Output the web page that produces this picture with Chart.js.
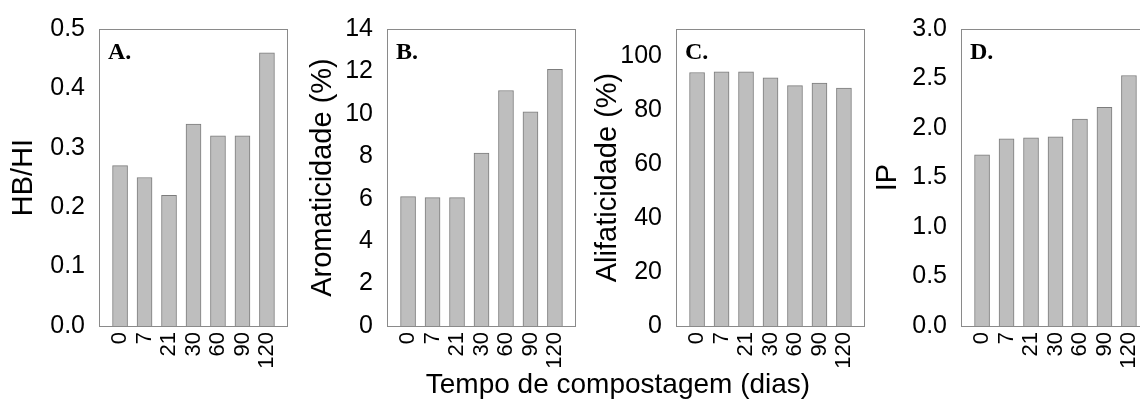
<!DOCTYPE html>
<html>
<head>
<meta charset="utf-8">
<script src="https://cdn.jsdelivr.net/npm/chart.js@4"></script>
<style>
    html, body {
        margin: 0;
        padding: 0;
        background: #ffffff;
        width: 1140px;
        height: 412px;
        overflow: hidden;
        position: relative;
    }
    .panel {
        position: absolute;
        top: 0;
        width: 290px;
        height: 412px;
    }
    #xTitle {
        position: absolute;
        left: 0;
        width: 1236px;
        top: 368px;
        text-align: center;
        font-family: 'Liberation Sans', Arial, sans-serif;
        font-size: 28px;
        color: #000000;
    }
</style>
</head>
<body>
<div class="panel" style="left:0px"><canvas id="chartA" width="290" height="412"></canvas></div>
<div class="panel" style="left:288px"><canvas id="chartB" width="290" height="412"></canvas></div>
<div class="panel" style="left:577px"><canvas id="chartC" width="290" height="412"></canvas></div>
<div class="panel" style="left:862px"><canvas id="chartD" width="290" height="412"></canvas></div>
<div id="xTitle">Tempo de compostagem (dias)</div>

<script>
// Tempo de compostagem (dias)
const dias = ['0', '7', '21', '30', '60', '90', '120'];

// Valores por painel
const hbHi = [0.27, 0.25, 0.22, 0.34, 0.32, 0.32, 0.46];
const aromaticidade = [6.1, 6.05, 6.05, 8.15, 11.1, 10.1, 12.1];
const alifaticidade = [93.9, 94.1, 94.1, 91.9, 89.0, 90.0, 88.1];
const ip = [1.73, 1.89, 1.90, 1.91, 2.09, 2.21, 2.53];

// Marcas do eixo Y de cada painel
const ticksA = [0, 0.1, 0.2, 0.3, 0.4, 0.5];
const ticksB = [0, 2, 4, 6, 8, 10, 12, 14];
const ticksC = [0, 20, 40, 60, 80, 100];
const ticksD = [0, 0.5, 1.0, 1.5, 2.0, 2.5, 3.0];

const fontSans = "'Liberation Sans', Arial, sans-serif";

// Moldura em volta da área do gráfico + letra do painel
const frameAndLetter = {
    id: 'frameAndLetter',
    afterDatasetsDraw(chart, args, opts) {
        const { ctx, chartArea } = chart;
        ctx.save();
        ctx.strokeStyle = '#8a8a8a';
        ctx.lineWidth = 1;
        ctx.strokeRect(chartArea.left + 0.5, chartArea.top + 0.5,
            chartArea.right - chartArea.left - 1, chartArea.bottom - chartArea.top);
        ctx.fillStyle = '#000000';
        ctx.font = "bold 24px 'Liberation Serif', 'Times New Roman', serif";
        ctx.textBaseline = 'alphabetic';
        ctx.fillText(opts.letter, chartArea.left + 9, chartArea.top + 30);
        ctx.restore();
    }
};

function buildPanel(canvasId, values, yTicks, yMax, yLabel, letter, decimals, titlePad) {
    const ctx = document.getElementById(canvasId).getContext('2d');
    return new Chart(ctx, {
        type: 'bar',
        data: {
            datasets: [{
                data: values.map((v, i) => ({ x: i, y: v })),
                backgroundColor: '#bebebe',
                borderColor: '#7c7c7c',
                borderWidth: 1,
                barThickness: 15,
            }]
        },
        plugins: [frameAndLetter],
        options: {
            responsive: false,
            animation: false,
            layout: {
                padding: { top: 28, right: 2, bottom: 0, left: 0 }
            },
            plugins: {
                legend: { display: false },
                tooltip: { enabled: false },
                frameAndLetter: { letter: letter }
            },
            scales: {
                x: {
                    type: 'linear',
                    offset: false,
                    min: -0.86,
                    max: 6.86,
                    grid: { display: false, drawTicks: false, offset: false },
                    border: { display: false },
                    afterBuildTicks: function(axis) {
                        axis.ticks = dias.map((d, i) => ({ value: i }));
                    },
                    afterFit: function(scale) {
                        // rótulos girados não devem encolher a área do gráfico
                        scale.height = 86;
                        scale.paddingLeft = 0;
                        scale.paddingRight = 0;
                    },
                    ticks: {
                        autoSkip: false,
                        minRotation: 90,
                        maxRotation: 90,
                        padding: 6,
                        color: '#000000',
                        font: { family: fontSans, size: 22 },
                        callback: function(value) {
                            return dias[value];
                        }
                    }
                },
                y: {
                    min: 0,
                    max: yMax,
                    grid: { display: false, drawTicks: false },
                    border: { display: false },
                    afterBuildTicks: function(axis) {
                        axis.ticks = yTicks.map(v => ({ value: v }));
                    },
                    afterFit: function(scale) {
                        scale.width = 99;
                    },
                    ticks: {
                        padding: 14,
                        color: '#000000',
                        font: { family: fontSans, size: 25 },
                        callback: function(value) {
                            return value.toFixed(decimals);
                        }
                    },
                    title: {
                        display: true,
                        text: yLabel,
                        color: '#000000',
                        padding: { top: titlePad, bottom: 0 },
                        font: { family: fontSans, size: 29, lineHeight: 1 }
                    }
                }
            }
        }
    });
}

buildPanel('chartA', hbHi, ticksA, 0.5, 'HB/HI', 'A.', 1, 9);
buildPanel('chartB', aromaticidade, ticksB, 14, 'Aromaticidade (%)', 'B.', 0, 20);
buildPanel('chartC', alifaticidade, ticksC, 110, 'Alifaticidade (%)', 'C.', 0, 16);
buildPanel('chartD', ip, ticksD, 3.0, 'IP', 'D.', 1, 11);
</script>
</body>
</html>
